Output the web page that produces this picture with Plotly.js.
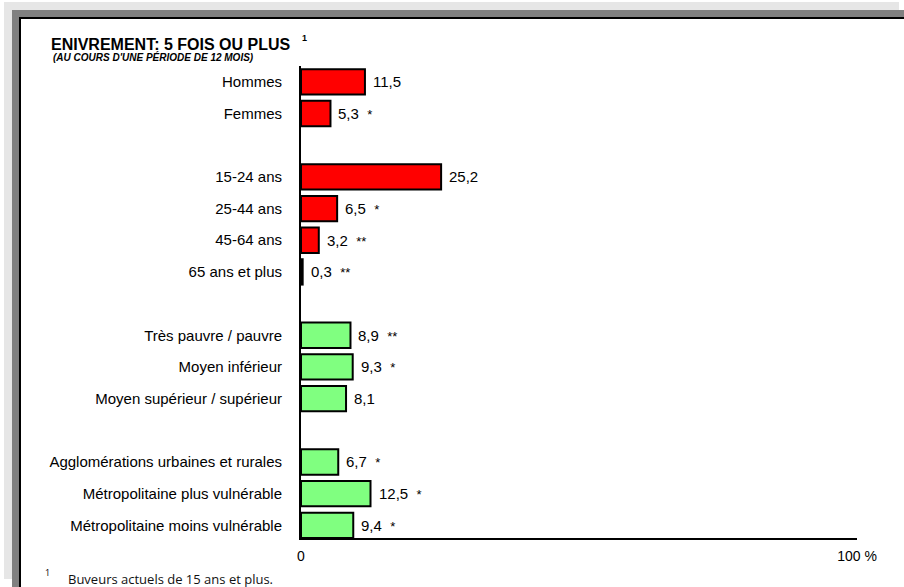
<!DOCTYPE html>
<html>
<head>
<meta charset="utf-8">
<script src="https://cdn.plot.ly/plotly-3.0.1.min.js"></script>
<style>html,body{margin:0;padding:0;background:#fff;}#chart{width:904px;height:587px;}</style>
</head>
<body>
<div id="chart"></div>
<script>
// ---- data ----
const categories = ['Hommes', 'Femmes', ' ', '15-24 ans', '25-44 ans', '45-64 ans', '65 ans et plus', '  ',
  'Très pauvre / pauvre', 'Moyen inférieur', 'Moyen supérieur / supérieur', '   ',
  'Agglomérations urbaines et rurales', 'Métropolitaine plus vulnérable', 'Métropolitaine moins vulnérable'];
const values = [11.5, 5.3, null, 25.2, 6.5, 3.2, 0.3, null, 8.9, 9.3, 8.1, null, 6.7, 12.5, 9.4];
const flags = ['', '*', '', '', '*', '**', '**', '', '**', '*', '', '', '*', '*', '*'];
const groups = ['sexe', 'sexe', '', 'âge', 'âge', 'âge', 'âge', '', 'revenu', 'revenu', 'revenu', '', 'région', 'région', 'région'];
const xTickVals = [0, 100];
const xTickText = ['0', '100 %'];
const titleText = 'ENIVREMENT: 5 FOIS OU PLUS';
const subtitleText = "(AU COURS D'UNE PÉRIODE DE 12 MOIS)";
const footnoteText = 'Buveurs actuels de 15 ans et plus.';

// ---- styles / layout ----
const groupColor = {'sexe': '#ff0000', 'âge': '#ff0000', 'revenu': '#80ff80', 'région': '#80ff80', '': '#ffffff'};
const FONT = '"Liberation Sans", Arial, sans-serif';
const W = 904, H = 587, L = 301, R = 857, T = 66, B = 538;
const px2x = p => (p - L) / (R - L);
const py2y = p => (B - p) / (B - T);
const fmt = v => v.toFixed(1).replace('.', ',');

const trace = {
  type: 'bar', orientation: 'h',
  y: categories, x: values,
  marker: {color: groups.map(g => groupColor[g]), line: {color: '#000', width: 2}},
  hoverinfo: 'none', showlegend: false
};

const annotations = [];
categories.forEach((c, i) => {
  if (values[i] === null) return;
  let t = fmt(values[i]);
  if (flags[i]) t += '&nbsp;&nbsp;<span style="font-size:13px">' + flags[i] + '</span>';
  annotations.push({x: values[i], y: c, xref: 'x', yref: 'y', text: t, showarrow: false,
    xanchor: 'left', yanchor: 'middle', xshift: 6, font: {family: FONT, size: 15, color: '#000'}});
});
annotations.push({xref: 'paper', yref: 'paper', x: px2x(300), y: py2y(38), text: '<b>1</b>', showarrow: false,
  xanchor: 'left', yanchor: 'middle', font: {family: FONT, size: 9, color: '#000'}});
annotations.push({xref: 'paper', yref: 'paper', x: px2x(51), y: py2y(57), text: '<b><i>' + subtitleText + '</i></b>', showarrow: false,
  xanchor: 'left', yanchor: 'middle', font: {family: FONT, size: 10, color: '#000'}});
annotations.push({xref: 'paper', yref: 'paper', x: px2x(43), y: py2y(572), text: '1', showarrow: false,
  xanchor: 'left', yanchor: 'middle', font: {family: '"Open Sans", sans-serif', size: 9, color: '#000'}});
annotations.push({xref: 'paper', yref: 'paper', x: px2x(66), y: py2y(579), text: footnoteText, showarrow: false,
  xanchor: 'left', yanchor: 'middle', font: {family: '"Open Sans", sans-serif', size: 13, color: '#111'}});

const shapes = [
  {type: 'rect', xref: 'paper', yref: 'paper', x0: px2x(4), x1: px2x(899), y0: py2y(2), y1: py2y(579),
    fillcolor: '#e6e6e6', line: {width: 0}, layer: 'below'},
  {type: 'rect', xref: 'paper', yref: 'paper', x0: px2x(12), x1: px2x(920), y0: py2y(10), y1: py2y(600),
    fillcolor: '#808080', line: {width: 0}, layer: 'below'},
  {type: 'rect', xref: 'paper', yref: 'paper', x0: px2x(20), x1: px2x(920), y0: py2y(18), y1: py2y(600),
    fillcolor: '#ffffff', line: {width: 2, color: '#000'}, layer: 'below'}
];

const layout = {
  width: W, height: H,
  margin: {l: L, r: W - R, t: T, b: H - B, pad: 0},
  paper_bgcolor: '#ffffff', plot_bgcolor: 'rgba(0,0,0,0)',
  bargap: 0.2,
  title: {text: '<b>' + titleText + '</b>', font: {family: FONT, size: 16, color: '#000'},
    x: 51 / W, xanchor: 'left', xref: 'container', y: 1 - 44 / H, yanchor: 'middle', yref: 'container'},
  xaxis: {range: [0, 100], tickvals: xTickVals, ticktext: xTickText, showgrid: false, zeroline: false,
    showline: true, linecolor: '#000', linewidth: 2, ticks: '', ticklabelstandoff: 4,
    tickfont: {family: FONT, size: 14, color: '#000'}, fixedrange: true},
  yaxis: {type: 'category', categoryorder: 'array', categoryarray: categories, range: [14.4, -0.5],
    showgrid: false, zeroline: false, showline: true, linecolor: '#000', linewidth: 2, ticks: '',
    ticklabelstandoff: 14, tickfont: {family: FONT, size: 15, color: '#000'}, fixedrange: true},
  annotations: annotations,
  shapes: shapes
};

Plotly.newPlot('chart', [trace], layout, {displayModeBar: false, staticPlot: true});
</script>
</body>
</html>
